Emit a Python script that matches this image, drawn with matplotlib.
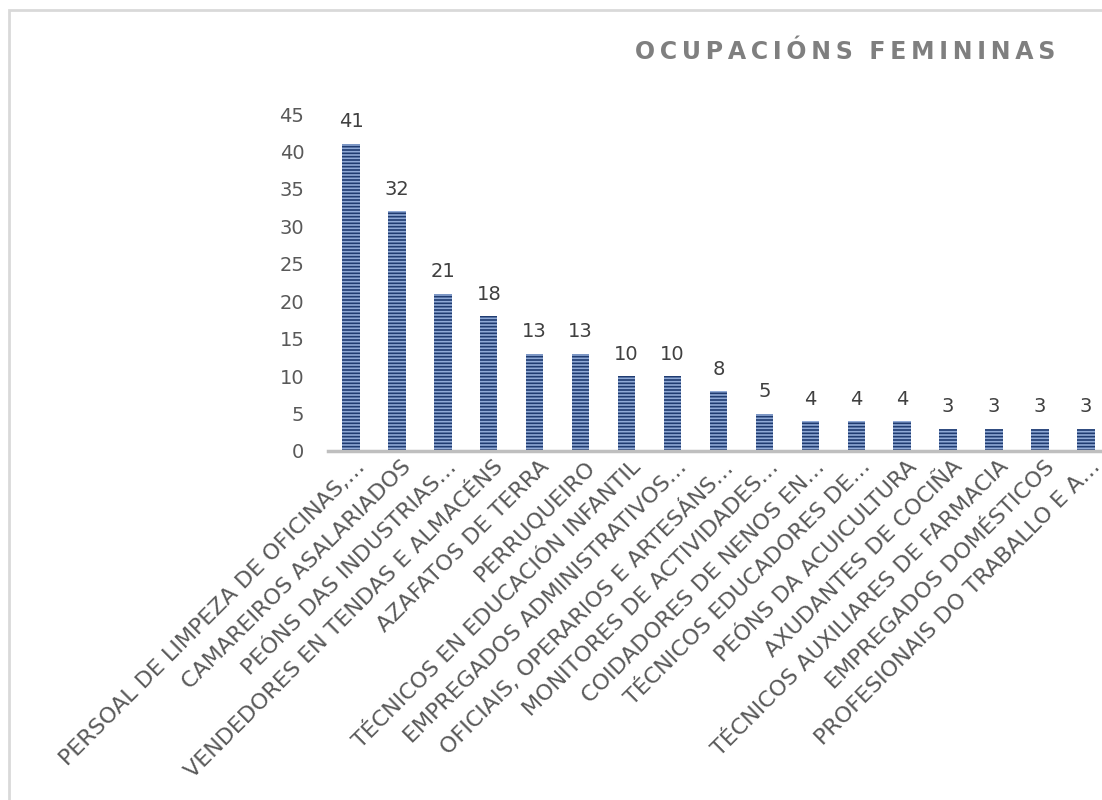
import matplotlib
matplotlib.use("Agg")
import matplotlib.pyplot as plt
from matplotlib.patches import Rectangle
import matplotlib.transforms as mtransforms

categories = [
    "PERSOAL DE LIMPEZA DE OFICINAS,…",
    "CAMAREIROS ASALARIADOS",
    "PEÓNS DAS INDUSTRIAS…",
    "VENDEDORES EN TENDAS E ALMACÉNS",
    "AZAFATOS DE TERRA",
    "PERRUQUEIRO",
    "TÉCNICOS EN EDUCACIÓN INFANTIL",
    "EMPREGADOS ADMINISTRATIVOS…",
    "OFICIAIS, OPERARIOS E ARTESÁNS…",
    "MONITORES DE ACTIVIDADES…",
    "COIDADORES DE NENOS EN…",
    "TÉCNICOS EDUCADORES DE…",
    "PEÓNS DA ACUICULTURA",
    "AXUDANTES DE COCIÑA",
    "TÉCNICOS AUXILIARES DE FARMACIA",
    "EMPREGADOS DOMÉSTICOS",
    "PROFESIONAIS DO TRABALLO E A…",
]
values = [41, 32, 21, 18, 13, 13, 10, 10, 8, 5, 4, 4, 4, 3, 3, 3, 3]
yticks = [0, 5, 10, 15, 20, 25, 30, 35, 40, 45]
title = "OCUPACIÓNS FEMININAS"

plt.rcParams['font.family'] = ['DejaVu Sans']
plt.rcParams['hatch.linewidth'] = 1.2
plt.rcParams['hatch.color'] = '#8fa9d6'

W, H = 1102, 800
fig = plt.figure(figsize=(W / 100, H / 100), dpi=100)

# border
fig.patches.append(Rectangle((9 / W, -0.05), 1.2, (H - 10) / H + 0.05,
                             transform=fig.transFigure, fill=False,
                             edgecolor='#d9d9d9', linewidth=2))

ax_left = 328 / W
ax_right = 1.0
ax_bottom = (H - 451) / H
ax_top = (H - 114) / H
ax = fig.add_axes([ax_left, ax_bottom, ax_right - ax_left, ax_top - ax_bottom])

x = list(range(len(categories)))
bars = ax.bar(x, values, width=0.38, color='#1f3b70', edgecolor='#8fa9d6',
              hatch='-----', linewidth=0)

ax.set_ylim(0, 45)
ax.set_xlim(-0.5, 16.35)
ax.set_yticks(yticks)
ax.tick_params(axis='y', length=0, pad=17, labelsize=14, labelcolor='#595959')
ax.tick_params(axis='x', length=0, pad=4)
ax.set_xticks(x)
ax.set_xticklabels(categories, rotation=45, ha='right', va='top',
                   rotation_mode='anchor', fontsize=16, color='#595959')
offset = mtransforms.ScaledTranslation(4 / 100, 0, fig.dpi_scale_trans)
for lab in ax.get_xticklabels():
    lab.set_transform(lab.get_transform() + offset)
for s in ['left', 'right', 'top']:
    ax.spines[s].set_visible(False)
ax.spines['bottom'].set_color('#bfbfbf')
ax.spines['bottom'].set_linewidth(2.5)

for xi, v in zip(x, values):
    ax.annotate(str(v), (xi, v), xytext=(0, 9), textcoords='offset points',
                ha='center', va='bottom', fontsize=14, color='#404040',
                annotation_clip=False)

spaced = "\u2009".join(list(title)).replace("\u2009 \u2009", "  ")
fig.text(1055 / W, 1 - 52 / H, spaced, ha='right', va='center',
         fontsize=17, fontweight='bold', color='#7f7f7f')

fig.savefig("out.png", dpi=100)
